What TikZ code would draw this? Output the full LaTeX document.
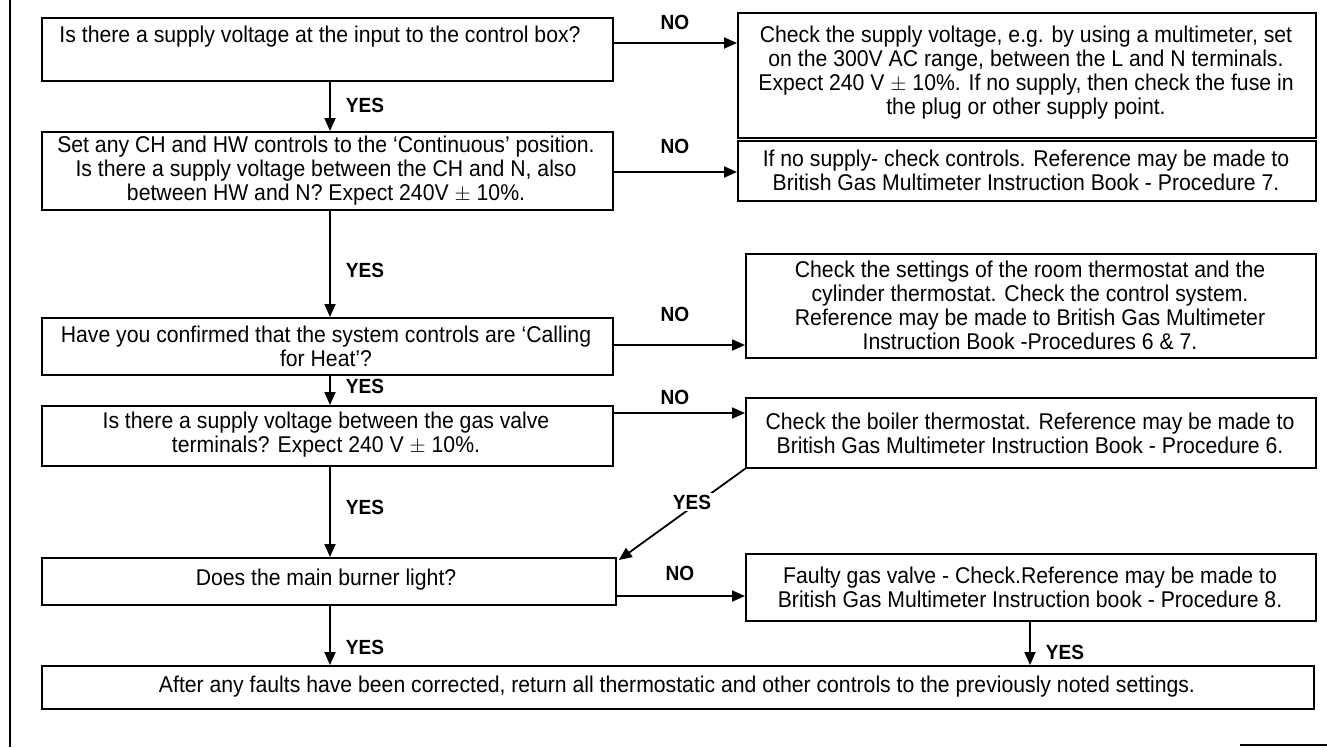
\documentclass[tikz,border=0pt]{standalone}
\usepackage{fontspec}
\setmainfont{Liberation Sans}[FakeStretch=0.93]
\usetikzlibrary{arrows.meta}
\begin{document}
\begin{tikzpicture}[x=1pt,y=-1pt,
  box/.style={draw, line width=1.8pt, anchor=north west, inner sep=0pt},
  txt/.style={align=center, font=\fontsize{22.8}{24}\selectfont, inner sep=0pt},
  lab/.style={font=\fontsize{20.5}{22}\selectfont\bfseries, inner sep=1pt},
  arr/.style={line width=1.8pt, -{Triangle[length=13pt,width=11pt]}}
]
\useasboundingbox (0,0) rectangle (1327,747);
% frame fragments
\draw[line width=1.6pt] (10,0) -- (10,747);
\draw[line width=1.6pt] (1240,745) -- (1327,745);
% left column boxes
\node[box, minimum width=571pt, minimum height=63pt] (A1) at (41,17) {};
\node[txt] (A1t) at (320,37) {Is there a supply voltage at the input to the control box?};
\node[box, minimum width=571pt, minimum height=78pt] (A2) at (41,131) {};
\node[txt] (A2t) at (326,171) {Set any CH and HW controls to the ‘Continuous’ position.\\Is there a supply voltage between the CH and N, also\\between HW and N? Expect 240V $\pm$ 10\%.};
\node[box, minimum width=571pt, minimum height=57pt] (A3) at (41,317) {};
\node[txt] (A3t) at (326,346) {Have you confirmed that the system controls are ‘Calling\\for Heat’?};
\node[box, minimum width=571pt, minimum height=60pt] (A4) at (41,405) {};
\node[txt] (A4t) at (326,435) {Is there a supply voltage between the gas valve\\terminals? Expect 240 V $\pm$ 10\%.};
\node[box, minimum width=574pt, minimum height=47pt] (A5) at (41,557) {};
\node[txt] (A5t) at (326,580) {Does the main burner light?};
\node[box, minimum width=1272pt, minimum height=43pt] (A6) at (41,665) {};
\node[txt] (A6t) at (677,687) {After any faults have been corrected, return all thermostatic and other controls to the previously noted settings.};
% right column boxes
\node[box, minimum width=578pt, minimum height=125pt] (B1) at (737,12) {};
\node[txt] (B1t) at (1026,73) {Check the supply voltage, e.g. by using a multimeter, set\\on the 300V AC range, between the L and N terminals.\\Expect 240 V $\pm$ 10\%. If no supply, then check the fuse in\\the plug or other supply point.};
\node[box, minimum width=578pt, minimum height=60pt] (B2) at (737,140) {};
\node[txt] (B2t) at (1026,170) {If no supply- check controls. Reference may be made to\\British Gas Multimeter Instruction Book - Procedure 7.};
\node[box, minimum width=570pt, minimum height=104pt] (B3) at (745,253) {};
\node[txt] (B3t) at (1030,305) {Check the settings of the room thermostat and the\\cylinder thermostat. Check the control system.\\Reference may be made to British Gas Multimeter\\Instruction Book -Procedures 6 \& 7.};
\node[box, minimum width=570pt, minimum height=70pt] (B4) at (745,397) {};
\node[txt] (B4t) at (1030,433) {Check the boiler thermostat. Reference may be made to\\British Gas Multimeter Instruction Book - Procedure 6.};
\node[box, minimum width=570pt, minimum height=67pt] (B5) at (745,553) {};
\node[txt] (B5t) at (1030,587) {Faulty gas valve - Check.Reference may be made to\\British Gas Multimeter Instruction book - Procedure 8.};
% NO arrows
\draw[arr] ([yshift=-26pt]A1.north east) -- ([yshift=-26pt]A1.north east -| B1.west);
\draw[arr] ([yshift=-41pt]A2.north east) -- ([yshift=-41pt]A2.north east -| B2.west);
\draw[arr] ([yshift=-28pt]A3.north east) -- ([yshift=-28pt]A3.north east -| B3.west);
\draw[arr] ([yshift=-8pt]A4.north east) -- ([yshift=-8pt]A4.north east -| B4.west);
\draw[arr] ([yshift=-39pt]A5.north east) -- ([yshift=-39pt]A5.north east -| B5.west);
\node[lab] (n1) at (675,22) {NO};
\node[lab] (n2) at (675,146) {NO};
\node[lab] (n3) at (675,314) {NO};
\node[lab] (n4) at (675,397) {NO};
\node[lab] (n5) at (680,573) {NO};
% YES arrows
\coordinate (vx) at (330,0);
\draw[arr] (A1.south -| vx) -- (A2.north -| vx);
\draw[arr] (A2.south -| vx) -- (A3.north -| vx);
\draw[arr] (A3.south -| vx) -- (A4.north -| vx);
\draw[arr] (A4.south -| vx) -- (A5.north -| vx);
\draw[arr] (A5.south -| vx) -- (A6.north -| vx);
\node[lab] (y1) at (365,105) {YES};
\node[lab] (y2) at (365,270) {YES};
\node[lab] (y3) at (365,386) {YES};
\node[lab] (y4) at (365,507) {YES};
\node[lab] (y5) at (365,647) {YES};
\coordinate (bx) at (1030,0);
\draw[arr] (B5.south -| bx) -- (A6.north -| bx);
\node[lab] (y6) at (1065,652) {YES};
\draw[arr] (B4.south west) -- node[lab, pos=0.42, fill=white, yshift=5pt, inner sep=2pt] (y7) {YES} ([xshift=2pt,yshift=-3pt]A5.north east);
\end{tikzpicture}
\end{document}
